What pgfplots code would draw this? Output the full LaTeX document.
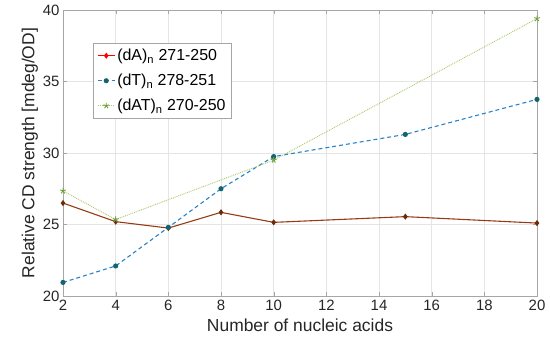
\documentclass[border=0pt]{standalone}
\usepackage{pgfplots}
\pgfplotsset{compat=1.18}
\usepackage{fontspec}
\setmainfont{Liberation Sans}
\definecolor{cA}{RGB}{150,60,20}
\definecolor{cAm}{RGB}{110,40,10}
\definecolor{cT}{RGB}{40,130,200}
\definecolor{cTm}{RGB}{20,100,110}
\definecolor{cAT}{RGB}{170,200,100}
\definecolor{cATm}{RGB}{110,160,60}
\begin{document}
\begin{tikzpicture}[x=1bp,y=1bp]
\path[use as bounding box] (-63,-49) rectangle (487,296);
\begin{axis}[
  at={(0,0)}, anchor=south west,
  width=474bp, height=286bp, scale only axis,
  xmin=2, xmax=20, ymin=20, ymax=40,
  xtick={2,4,...,20}, ytick={20,25,...,40},
  grid=major, major grid style={gray!20},
  axis line style={gray!70}, tick style={gray!70},
  tick align=inside, major tick length=4bp,
  ticklabel style={font=\fontsize{15}{17}\selectfont, color=black!85},
  xticklabel style={yshift=-1bp},
  /pgf/number format/assume math mode=true,
  xlabel={Number of nucleic acids}, ylabel={Relative CD strength [mdeg/OD]},
  label style={font=\fontsize{17.5}{20}\selectfont, color=black!85},
  xlabel style={yshift=-1bp}, ylabel style={yshift=-2bp},
  legend style={at={(30bp,253bp)}, anchor=north west, draw=gray!70, font=\fontsize{16}{18}\selectfont, row sep=8bp, inner sep=4bp},
  legend cell align=left,
]
\addplot[cA, line width=1.1pt, mark=diamond*, mark size=2.2bp, mark options={fill=cAm, draw=cAm, solid},
  legend image post style={red, mark options={fill=red, draw=red}}] coordinates {(2,26.5) (4,25.2) (6,24.75) (8,25.85) (10,25.15) (15,25.55) (20,25.1)};
\addlegendentry{(dA)\textsubscript{n} 271-250}
\addplot[cT, line width=1.1pt, dash pattern=on 4pt off 3pt, mark=*, mark size=2bp, mark options={fill=cTm, draw=cTm, solid}] coordinates {(2,20.95) (4,22.1) (6,24.8) (8,27.5) (10,29.75) (15,31.3) (20,33.75)};
\addlegendentry{(dT)\textsubscript{n} 278-251}
\addplot[cAT, line width=0.9pt, densely dotted, mark=star, mark size=3bp, mark options={draw=cATm, solid}] coordinates {(2,27.35) (4,25.35) (10,29.5) (20,39.4)};
\addlegendentry{(dAT)\textsubscript{n} 270-250}
\end{axis}
\end{tikzpicture}
\end{document}
